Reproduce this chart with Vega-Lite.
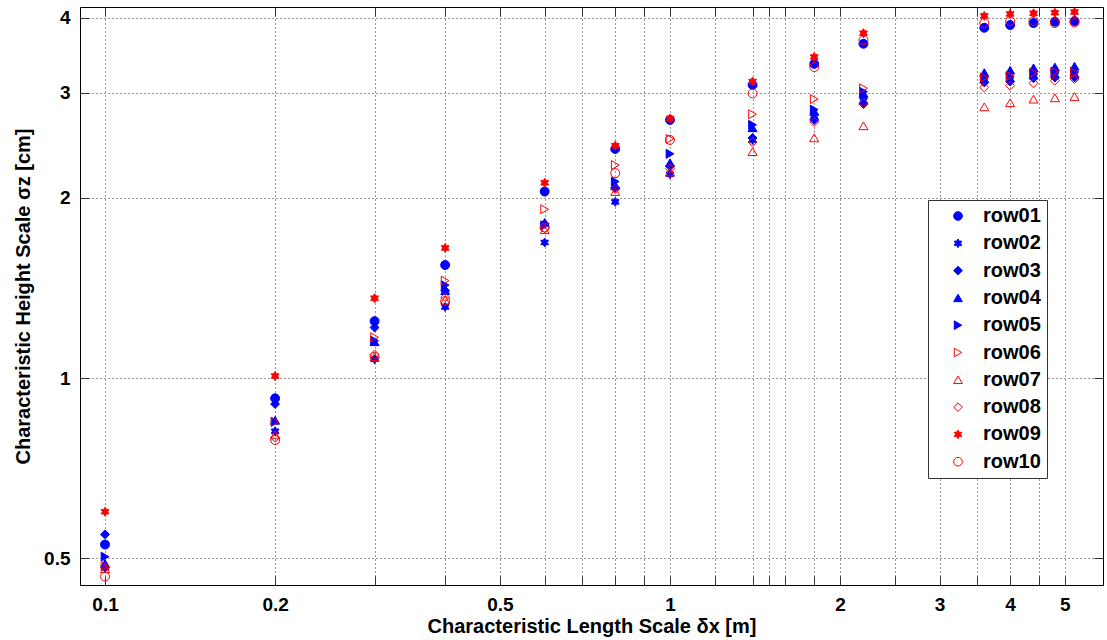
{
  "$schema": "https://vega.github.io/schema/vega-lite/v6.json",
  "width": 1023,
  "height": 578,
  "autosize": {"type": "none"},
  "padding": {"left": 80, "top": 7, "right": 4, "bottom": 55},
  "background": "white",
  "config": {
    "font": "Liberation Sans",
    "view": {"stroke": "black", "strokeWidth": 1},
    "axis": {
      "labelFont": "Liberation Sans", "labelFontWeight": "bold", "labelFontSize": 19, "labelColor": "black",
      "titleFont": "Liberation Sans", "titleFontWeight": "bold", "titleFontSize": 20, "titleColor": "black",
      "domain": false, "tickColor": "#333", "tickSize": -9, "tickWidth": 1,
      "grid": true, "gridColor": "#333", "gridDash": [1, 3], "gridWidth": 1, "gridOpacity": 1
    },
    "legend": {
      "labelFont": "Liberation Sans", "labelFontWeight": "bold", "labelFontSize": 20, "labelColor": "black",
      "strokeColor": "#333", "fillColor": "white", "padding": 6, "rowPadding": 7.3,
      "symbolStrokeWidth": 1, "symbolSize": 75, "symbolOffset": 14, "labelOffset": 15
    }
  },
  "data": {"values": [
    {"dx":0.1,"sz":0.527,"row":"row01"},{"dx":0.2,"sz":0.925,"row":"row01"},{"dx":0.3,"sz":1.245,"row":"row01"},{"dx":0.4,"sz":1.545,"row":"row01"},{"dx":0.6,"sz":2.05,"row":"row01"},{"dx":0.8,"sz":2.415,"row":"row01"},{"dx":1.0,"sz":2.70,"row":"row01"},{"dx":1.4,"sz":3.09,"row":"row01"},{"dx":1.8,"sz":3.35,"row":"row01"},{"dx":2.2,"sz":3.62,"row":"row01"},{"dx":3.6,"sz":3.85,"row":"row01"},{"dx":4.0,"sz":3.89,"row":"row01"},{"dx":4.4,"sz":3.92,"row":"row01"},{"dx":4.8,"sz":3.94,"row":"row01"},{"dx":5.2,"sz":3.95,"row":"row01"},
    {"dx":0.1,"sz":0.482,"row":"row02"},{"dx":0.2,"sz":0.815,"row":"row02"},{"dx":0.3,"sz":1.075,"row":"row02"},{"dx":0.4,"sz":1.315,"row":"row02"},{"dx":0.6,"sz":1.685,"row":"row02"},{"dx":0.8,"sz":1.97,"row":"row02"},{"dx":1.0,"sz":2.19,"row":"row02"},{"dx":1.4,"sz":2.50,"row":"row02"},{"dx":1.8,"sz":2.74,"row":"row02"},{"dx":2.2,"sz":2.91,"row":"row02"},{"dx":3.6,"sz":3.15,"row":"row02"},{"dx":4.0,"sz":3.16,"row":"row02"},{"dx":4.4,"sz":3.19,"row":"row02"},{"dx":4.8,"sz":3.21,"row":"row02"},{"dx":5.2,"sz":3.22,"row":"row02"},
    {"dx":0.1,"sz":0.548,"row":"row03"},{"dx":0.2,"sz":0.905,"row":"row03"},{"dx":0.3,"sz":1.215,"row":"row03"},{"dx":0.4,"sz":1.40,"row":"row03"},{"dx":0.6,"sz":1.81,"row":"row03"},{"dx":0.8,"sz":2.08,"row":"row03"},{"dx":1.0,"sz":2.26,"row":"row03"},{"dx":1.4,"sz":2.52,"row":"row03"},{"dx":1.8,"sz":2.70,"row":"row03"},{"dx":2.2,"sz":2.87,"row":"row03"},{"dx":3.6,"sz":3.12,"row":"row03"},{"dx":4.0,"sz":3.13,"row":"row03"},{"dx":4.4,"sz":3.17,"row":"row03"},{"dx":4.8,"sz":3.18,"row":"row03"},{"dx":5.2,"sz":3.18,"row":"row03"},
    {"dx":0.1,"sz":0.490,"row":"row04"},{"dx":0.2,"sz":0.850,"row":"row04"},{"dx":0.3,"sz":1.150,"row":"row04"},{"dx":0.4,"sz":1.40,"row":"row04"},{"dx":0.6,"sz":1.82,"row":"row04"},{"dx":0.8,"sz":2.10,"row":"row04"},{"dx":1.0,"sz":2.29,"row":"row04"},{"dx":1.4,"sz":2.62,"row":"row04"},{"dx":1.8,"sz":2.79,"row":"row04"},{"dx":2.2,"sz":2.99,"row":"row04"},{"dx":3.6,"sz":3.24,"row":"row04"},{"dx":4.0,"sz":3.27,"row":"row04"},{"dx":4.4,"sz":3.30,"row":"row04"},{"dx":4.8,"sz":3.31,"row":"row04"},{"dx":5.2,"sz":3.32,"row":"row04"},
    {"dx":0.1,"sz":0.503,"row":"row05"},{"dx":0.2,"sz":0.845,"row":"row05"},{"dx":0.3,"sz":1.155,"row":"row05"},{"dx":0.4,"sz":1.43,"row":"row05"},{"dx":0.6,"sz":1.80,"row":"row05"},{"dx":0.8,"sz":2.13,"row":"row05"},{"dx":1.0,"sz":2.37,"row":"row05"},{"dx":1.4,"sz":2.65,"row":"row05"},{"dx":1.8,"sz":2.81,"row":"row05"},{"dx":2.2,"sz":3.01,"row":"row05"},{"dx":3.6,"sz":3.17,"row":"row05"},{"dx":4.0,"sz":3.19,"row":"row05"},{"dx":4.4,"sz":3.23,"row":"row05"},{"dx":4.8,"sz":3.25,"row":"row05"},{"dx":5.2,"sz":3.25,"row":"row05"},
    {"dx":0.1,"sz":0.485,"row":"row06"},{"dx":0.2,"sz":0.845,"row":"row06"},{"dx":0.3,"sz":1.170,"row":"row06"},{"dx":0.4,"sz":1.455,"row":"row06"},{"dx":0.6,"sz":1.915,"row":"row06"},{"dx":0.8,"sz":2.27,"row":"row06"},{"dx":1.0,"sz":2.51,"row":"row06"},{"dx":1.4,"sz":2.76,"row":"row06"},{"dx":1.8,"sz":2.925,"row":"row06"},{"dx":2.2,"sz":3.05,"row":"row06"},{"dx":3.6,"sz":3.18,"row":"row06"},{"dx":4.0,"sz":3.20,"row":"row06"},{"dx":4.4,"sz":3.24,"row":"row06"},{"dx":4.8,"sz":3.25,"row":"row06"},{"dx":5.2,"sz":3.24,"row":"row06"},
    {"dx":0.1,"sz":0.480,"row":"row07"},{"dx":0.2,"sz":0.805,"row":"row07"},{"dx":0.3,"sz":1.085,"row":"row07"},{"dx":0.4,"sz":1.35,"row":"row07"},{"dx":0.6,"sz":1.77,"row":"row07"},{"dx":0.8,"sz":2.05,"row":"row07"},{"dx":1.0,"sz":2.21,"row":"row07"},{"dx":1.4,"sz":2.39,"row":"row07"},{"dx":1.8,"sz":2.52,"row":"row07"},{"dx":2.2,"sz":2.64,"row":"row07"},{"dx":3.6,"sz":2.84,"row":"row07"},{"dx":4.0,"sz":2.885,"row":"row07"},{"dx":4.4,"sz":2.925,"row":"row07"},{"dx":4.8,"sz":2.94,"row":"row07"},{"dx":5.2,"sz":2.955,"row":"row07"},
    {"dx":0.1,"sz":0.482,"row":"row08"},{"dx":0.2,"sz":0.795,"row":"row08"},{"dx":0.3,"sz":1.095,"row":"row08"},{"dx":0.4,"sz":1.365,"row":"row08"},{"dx":0.6,"sz":1.78,"row":"row08"},{"dx":0.8,"sz":2.07,"row":"row08"},{"dx":1.0,"sz":2.24,"row":"row08"},{"dx":1.4,"sz":2.48,"row":"row08"},{"dx":1.8,"sz":2.68,"row":"row08"},{"dx":2.2,"sz":2.88,"row":"row08"},{"dx":3.6,"sz":3.06,"row":"row08"},{"dx":4.0,"sz":3.08,"row":"row08"},{"dx":4.4,"sz":3.11,"row":"row08"},{"dx":4.8,"sz":3.14,"row":"row08"},{"dx":5.2,"sz":3.16,"row":"row08"},
    {"dx":0.1,"sz":0.598,"row":"row09"},{"dx":0.2,"sz":1.008,"row":"row09"},{"dx":0.3,"sz":1.36,"row":"row09"},{"dx":0.4,"sz":1.65,"row":"row09"},{"dx":0.6,"sz":2.12,"row":"row09"},{"dx":0.8,"sz":2.445,"row":"row09"},{"dx":1.0,"sz":2.715,"row":"row09"},{"dx":1.4,"sz":3.13,"row":"row09"},{"dx":1.8,"sz":3.44,"row":"row09"},{"dx":2.2,"sz":3.77,"row":"row09"},{"dx":3.6,"sz":4.03,"row":"row09"},{"dx":4.0,"sz":4.06,"row":"row09"},{"dx":4.4,"sz":4.07,"row":"row09"},{"dx":4.8,"sz":4.08,"row":"row09"},{"dx":5.2,"sz":4.09,"row":"row09"},
    {"dx":0.1,"sz":0.466,"row":"row10"},{"dx":0.2,"sz":0.788,"row":"row10"},{"dx":0.3,"sz":1.085,"row":"row10"},{"dx":0.4,"sz":1.345,"row":"row10"},{"dx":0.6,"sz":1.785,"row":"row10"},{"dx":0.8,"sz":2.20,"row":"row10"},{"dx":1.0,"sz":2.50,"row":"row10"},{"dx":1.4,"sz":2.99,"row":"row10"},{"dx":1.8,"sz":3.31,"row":"row10"},{"dx":2.2,"sz":3.67,"row":"row10"},{"dx":3.6,"sz":3.92,"row":"row10"},{"dx":4.0,"sz":3.95,"row":"row10"},{"dx":4.4,"sz":3.95,"row":"row10"},{"dx":4.8,"sz":3.92,"row":"row10"},{"dx":5.2,"sz":3.93,"row":"row10"}
  ]},
  "layer": [
    {
      "mark": {"type": "point", "size": 80, "strokeWidth": 1, "opacity": 1},
      "encoding": {
        "x": {"field": "dx", "type": "quantitative",
          "scale": {"type": "log", "domain": [0.0903, 5.84], "nice": false, "zero": false},
          "axis": {"title": "Characteristic Length Scale δx [m]",
            "values": [0.1,0.2,0.3,0.4,0.5,0.6,0.7,0.8,0.9,1,1.2,1.4,1.5,1.6,1.8,2,2.5,3,3.5,4,4.5,5],
            "format": "~g",
            "labelExpr": "indexof([0.1,0.2,0.5,1,2,3,4,5], datum.value) >= 0 ? datum.label : ''",
            "labelPadding": 19, "titlePadding": 2, "labelFlush": false, "labelOverlap": false}},
        "y": {"field": "sz", "type": "quantitative",
          "scale": {"type": "log", "domain": [0.451, 4.17], "nice": false, "zero": false},
          "axis": {"title": "Characteristic Height Scale σz [cm]",
            "values": [0.5, 1, 2, 3, 4], "format": "~g",
            "labelPadding": 19, "titlePadding": 10, "labelFlush": false, "labelOverlap": false}},
        "shape": {"field": "row", "type": "nominal",
          "scale": {"domain": ["row01","row02","row03","row04","row05","row06","row07","row08","row09","row10"],
            "range": ["circle", "M0,-1L0.289,-0.5L0.866,-0.5L0.577,0L0.866,0.5L0.289,0.5L0,1L-0.289,0.5L-0.866,0.5L-0.577,0L-0.866,-0.5L-0.289,-0.5Z", "diamond", "triangle-up", "triangle-right", "triangle-right", "triangle-up", "diamond", "M0,-1L0.289,-0.5L0.866,-0.5L0.577,0L0.866,0.5L0.289,0.5L0,1L-0.289,0.5L-0.866,0.5L-0.577,0L-0.866,-0.5L-0.289,-0.5Z", "circle"]},
          "legend": {"title": null, "orient": "none", "legendX": 848, "legendY": 193}},
        "stroke": {"field": "row", "type": "nominal",
          "scale": {"domain": ["row01","row02","row03","row04","row05","row06","row07","row08","row09","row10"],
            "range": ["#0000ff","#0000ff","#0000ff","#0000ff","#0000ff","#ff0000","#ff0000","#ff0000","#ff0000","#ff0000"]},
          "legend": {"title": null, "orient": "none", "legendX": 848, "legendY": 193}},
        "fill": {"field": "row", "type": "nominal",
          "scale": {"domain": ["row01","row02","row03","row04","row05","row06","row07","row08","row09","row10"],
            "range": ["#0000ff","#0000ff","#0000ff","#0000ff","#0000ff","transparent","transparent","transparent","#ff0000","transparent"]},
          "legend": {"title": null, "orient": "none", "legendX": 848, "legendY": 193}}
      }
    },
    {
      "mark": {"type": "point", "opacity": 0},
      "encoding": {
        "x": {"field": "dx", "type": "quantitative",
          "axis": {"orient": "top", "title": null, "labels": false, "grid": false,
            "values": [0.1,0.2,0.3,0.4,0.5,0.6,0.7,0.8,0.9,1,1.2,1.4,1.5,1.6,1.8,2,2.5,3,3.5,4,4.5,5]}},
        "y": {"field": "sz", "type": "quantitative",
          "axis": {"orient": "right", "title": null, "labels": false, "grid": false, "values": [0.5, 1, 2, 3, 4]}}
      }
    }
  ],
  "resolve": {"axis": {"x": "independent", "y": "independent"}}
}
